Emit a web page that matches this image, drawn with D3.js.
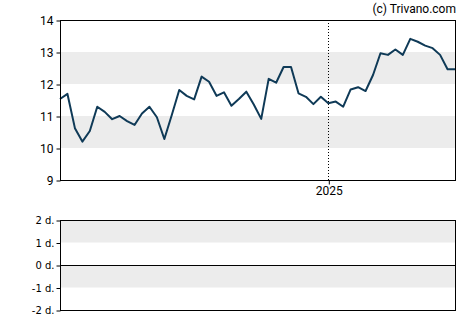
<!DOCTYPE html>
<html>
<head>
<meta charset="utf-8">
<script src="https://cdn.jsdelivr.net/npm/d3@7"></script>
<style>
  body { margin: 0; background: #fff; }
  svg { display: block; }
  .axis text { font-family: Roboto, sans-serif; font-size: 12px; fill: #000; }
  .axis2 text { font-family: "DejaVu Sans", sans-serif; font-size: 10px; fill: #000; }
</style>
</head>
<body>
<svg width="470" height="325"></svg>
<script>
// weekly closing prices, first week starting 2024-04-24
var startDate = "2024-04-24",
    prices = [11.53, 11.69, 10.62, 10.20, 10.53, 11.29, 11.13, 10.90, 11.00, 10.84,
              10.72, 11.08, 11.29, 10.96, 10.28, 11.03, 11.81, 11.63, 11.52, 12.23,
              12.07, 11.63, 11.74, 11.32, 11.53, 11.76, 11.36, 10.91, 12.16, 12.04,
              12.53, 12.53, 11.71, 11.60, 11.37, 11.60, 11.40, 11.45, 11.29, 11.83,
              11.90, 11.78, 12.28, 12.96, 12.91, 13.08, 12.91, 13.41, 13.32, 13.20,
              13.12, 12.91, 12.46, 12.46],
    priceTicks = [9, 10, 11, 12, 13, 14],
    priceBands = [[10, 11], [12, 13]],
    yearTicks = ["2025-01-01"],
    lowerTicks = [-2, -1, 0, 1, 2],
    lowerBands = [[-1, 0], [1, 2]];

var parse = d3.timeParse("%Y-%m-%d"),
    t0 = parse(startDate),
    data = prices.map(function(v, i) { return {date: d3.timeWeek.offset(t0, i), value: v}; });

var svg = d3.select("svg"),
    left = 60, right = 455,
    top1 = 20, bottom1 = 180,
    top2 = 220, bottom2 = 310;

var x = d3.scaleTime()
    .domain(d3.extent(data, function(d) { return d.date; }))
    .range([left, right]);
var y = d3.scaleLinear().domain([9, 14]).range([bottom1, top1]);
var y2 = d3.scaleLinear().domain([-2, 2]).range([bottom2, top2]);

// bands
svg.append("g").selectAll("rect")
    .data(priceBands)
    .enter().append("rect")
    .attr("x", left).attr("width", right - left)
    .attr("y", function(d) { return y(d[1]); })
    .attr("height", function(d) { return y(d[0]) - y(d[1]); })
    .style("fill", "#ececec");

svg.append("g").selectAll("rect")
    .data(lowerBands)
    .enter().append("rect")
    .attr("x", left).attr("width", right - left)
    .attr("y", function(d) { return y2(d[1]); })
    .attr("height", function(d) { return y2(d[0]) - y2(d[1]); })
    .style("fill", "#ececec");

// year separator
svg.append("g").selectAll("line")
    .data(yearTicks)
    .enter().append("line")
    .attr("x1", function(d) { return Math.round(x(parse(d))) + 0.5; })
    .attr("x2", function(d) { return Math.round(x(parse(d))) + 0.5; })
    .attr("y1", top1).attr("y2", bottom1)
    .style("stroke", "#000")
    .style("stroke-dasharray", "1,2");

// price line
svg.append("path")
    .datum(data)
    .attr("d", d3.line()
        .x(function(d) { return x(d.date); })
        .y(function(d) { return y(d.value); }))
    .style("fill", "none")
    .style("stroke", "#0f3a57")
    .style("stroke-width", 2)
    .style("stroke-linejoin", "round");

// frames
[[top1, bottom1], [top2, bottom2]].forEach(function(f) {
    svg.append("rect")
        .attr("x", left + 0.5).attr("y", f[0] + 0.5)
        .attr("width", right - left).attr("height", f[1] - f[0])
        .style("fill", "none")
        .style("stroke", "#000");
});

svg.append("line")
    .attr("x1", left).attr("x2", right)
    .attr("y1", Math.round(y2(0)) + 0.5).attr("y2", Math.round(y2(0)) + 0.5)
    .style("stroke", "#000");

// axes
svg.append("g")
    .attr("class", "axis")
    .attr("transform", "translate(" + (left + 0.5) + ",0.5)")
    .call(d3.axisLeft(y).tickValues(priceTicks).tickFormat(d3.format("d")).tickSize(4).tickPadding(3))
    .call(function(g) { g.select(".domain").remove(); });

svg.append("g")
    .attr("class", "axis")
    .attr("transform", "translate(0.5," + (bottom1 + 0.5) + ")")
    .call(d3.axisBottom(x).tickValues(yearTicks.map(parse)).tickFormat(d3.timeFormat("%Y")).tickSize(4).tickPadding(2))
    .call(function(g) { g.select(".domain").remove(); });

svg.append("g")
    .attr("class", "axis2")
    .attr("transform", "translate(" + (left + 0.5) + ",0.5)")
    .call(d3.axisLeft(y2).tickValues(lowerTicks).tickFormat(function(d) { return d + " d."; }).tickSize(4).tickPadding(2))
    .call(function(g) { g.select(".domain").remove(); });

svg.append("text")
    .attr("x", 456).attr("y", 13)
    .attr("text-anchor", "end")
    .style("font-family", "Roboto, sans-serif")
    .style("font-size", "12px")
    .text("(c) Trivano.com");
</script>
</body>
</html>
